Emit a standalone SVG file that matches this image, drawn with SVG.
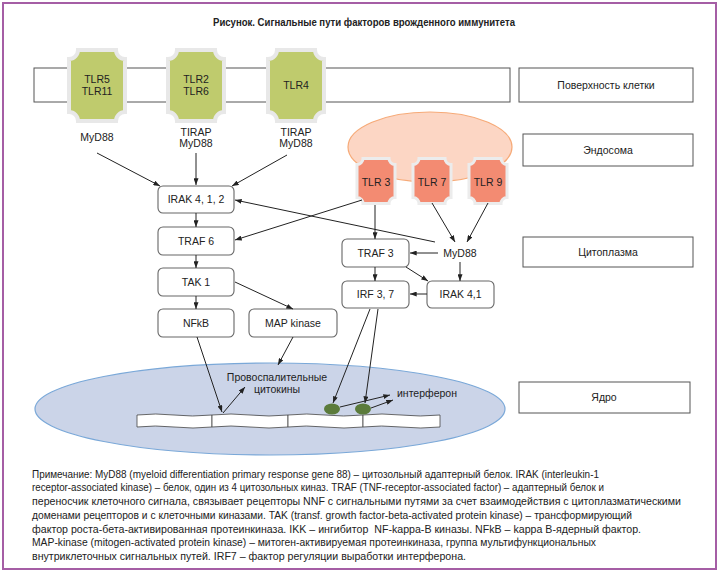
<svg xmlns="http://www.w3.org/2000/svg" width="720" height="573" viewBox="0 0 720 573">
<defs>
<marker id="ah" viewBox="0 0 8 6" refX="8" refY="3" markerWidth="7" markerHeight="5" markerUnits="userSpaceOnUse" orient="auto">
<path d="M0,0 L8,3 L0,6 Z" fill="#222"/>
</marker>
<style>
text{font-family:"Liberation Sans",Arial,sans-serif;fill:#222;}
.lbl{font-size:10.5px;text-anchor:middle;}
.note{font-size:10.3px;}
.box{fill:#fff;stroke:#555;stroke-width:1;}
.node{fill:#fff;stroke:#666;stroke-width:1.1;}
.green{fill:#bfcb6d;stroke:#e8e8e8;stroke-width:4;}
.red{fill:#f38b72;stroke:#ececec;stroke-width:3;}
.con line{stroke:#222;stroke-width:1;marker-end:url(#ah);}
.dna{fill:#fff;stroke:#444;stroke-width:0.8;}
</style>
</defs>
<rect x="3" y="3" width="713" height="566" fill="#fff" stroke="#a55ea5" stroke-width="2"/>
<text x="364" y="26" font-size="10.8" font-weight="bold" text-anchor="middle" textLength="302" lengthAdjust="spacingAndGlyphs">Рисунок. Сигнальные пути факторов врожденного иммунитета</text>

<g id="membrane"><rect class="box" x="34" y="68" width="476" height="34"/></g>
<g id="label-surface"><rect class="box" x="519" y="68" width="174" height="34"/><text class="lbl" x="606" y="89">Поверхность клетки</text></g>
<g id="label-endosome"><rect class="box" x="523" y="134" width="170" height="32"/><text class="lbl" x="608" y="154">Эндосома</text></g>
<g id="label-cytoplasm"><rect class="box" x="523" y="237" width="170" height="30"/><text class="lbl" x="608" y="256">Цитоплазма</text></g>
<g id="label-nucleus"><rect class="box" x="519" y="382" width="171" height="31"/><text class="lbl" x="604" y="401">Ядро</text></g>

<g id="endosome"><ellipse cx="430" cy="147" rx="82" ry="35" fill="#fcd6c4" stroke="#f6aa78" stroke-width="1.2"/></g>
<g id="nucleus"><ellipse cx="270" cy="409" rx="235" ry="46" fill="#cbd4e8" stroke="#7aa8d8" stroke-width="1.2"/></g>

<g id="tlr5"><path class="green" d="M78,50 H116 A9,9 0 0 0 125,59 V112 A9,9 0 0 0 116,121 H78 A9,9 0 0 0 69,112 V59 A9,9 0 0 0 78,50 Z"/><text class="lbl" x="97" y="83">TLR5</text><text class="lbl" x="97" y="95">TLR11</text></g>
<g id="tlr2"><path class="green" d="M177,50 H215 A9,9 0 0 0 224,59 V112 A9,9 0 0 0 215,121 H177 A9,9 0 0 0 168,112 V59 A9,9 0 0 0 177,50 Z"/><text class="lbl" x="196" y="83">TLR2</text><text class="lbl" x="196" y="95">TLR6</text></g>
<g id="tlr4"><path class="green" d="M277,50 H315 A9,9 0 0 0 324,59 V112 A9,9 0 0 0 315,121 H277 A9,9 0 0 0 268,112 V59 A9,9 0 0 0 277,50 Z"/><text class="lbl" x="296" y="89">TLR4</text></g>

<g id="tlr3"><path class="red" d="M363,158.5 H389 A6,6 0 0 0 395,164.5 V197.5 A6,6 0 0 0 389,203.5 H363 A6,6 0 0 0 357,197.5 V164.5 A6,6 0 0 0 363,158.5 Z"/><text class="lbl" x="376" y="186">TLR 3</text></g>
<g id="tlr7"><path class="red" d="M419,158.5 H445 A6,6 0 0 0 451,164.5 V197.5 A6,6 0 0 0 445,203.5 H419 A6,6 0 0 0 413,197.5 V164.5 A6,6 0 0 0 419,158.5 Z"/><text class="lbl" x="432" y="186">TLR 7</text></g>
<g id="tlr9"><path class="red" d="M475,158.5 H501 A6,6 0 0 0 507,164.5 V197.5 A6,6 0 0 0 501,203.5 H475 A6,6 0 0 0 469,197.5 V164.5 A6,6 0 0 0 475,158.5 Z"/><text class="lbl" x="488" y="186">TLR 9</text></g>

<g id="adapter-1"><text class="lbl" x="97" y="141">MyD88</text></g>
<g id="adapter-2"><text class="lbl" x="196" y="136">TIRAP</text><text class="lbl" x="196" y="147">MyD88</text></g>
<g id="adapter-3"><text class="lbl" x="296" y="136">TIRAP</text><text class="lbl" x="296" y="147">MyD88</text></g>
<g id="myd88"><text class="lbl" x="460" y="257">MyD88</text></g>

<g id="irak412"><rect class="node" x="158" y="186" width="76" height="27" rx="5"/><text class="lbl" x="196" y="203">IRAK 4, 1, 2</text></g>
<g id="traf6"><rect class="node" x="158" y="227" width="76" height="28" rx="5"/><text class="lbl" x="196" y="245">TRAF 6</text></g>
<g id="tak1"><rect class="node" x="158" y="268" width="76" height="28" rx="5"/><text class="lbl" x="196" y="286">TAK 1</text></g>
<g id="nfkb"><rect class="node" x="158" y="309" width="76" height="28" rx="5"/><text class="lbl" x="196" y="327">NFkB</text></g>
<g id="mapk"><rect class="node" x="249" y="309" width="88" height="28" rx="5"/><text class="lbl" x="293" y="327">MAP kinase</text></g>
<g id="traf3"><rect class="node" x="342" y="239" width="67" height="28" rx="5"/><text class="lbl" x="375.5" y="257">TRAF 3</text></g>
<g id="irf37"><rect class="node" x="342" y="281" width="67" height="27" rx="5"/><text class="lbl" x="375.5" y="298">IRF 3, 7</text></g>
<g id="irak41"><rect class="node" x="427" y="281" width="67" height="27" rx="5"/><text class="lbl" x="460.5" y="298">IRAK 4,1</text></g>

<g id="dna">
<path class="dna" d="M137,415 Q156,413 174,415 T212,415 V427 Q193,429 174,427 T137,427 Z"/>
<path class="dna" d="M212,415 Q231,413 250,415 T288,415 V427 Q269,429 250,427 T212,427 Z"/>
<path class="dna" d="M288,415 Q307,413 325,415 T363,415 V427 Q344,429 325,427 T288,427 Z"/>
<path class="dna" d="M363,415 Q382,413 401,415 T440,415 V427 Q421,429 401,427 T363,427 Z"/>
</g>
<g id="tf1"><ellipse cx="332" cy="409" rx="8" ry="5.5" fill="#5b7b3b"/></g>
<g id="tf2"><ellipse cx="363" cy="409" rx="8" ry="5.5" fill="#5b7b3b"/></g>
<g id="cytokines"><text class="lbl" x="277" y="381">Провоспалительные</text><text class="lbl" x="277" y="393">цитокины</text></g>
<g id="interferon"><text class="lbl" x="427" y="397">интерферон</text></g>

<g id="connectors" class="con">
<line x1="97" y1="153" x2="160" y2="186"/>
<line x1="196" y1="153" x2="196" y2="185"/>
<line x1="287" y1="155" x2="232" y2="186"/>
<line x1="196" y1="213" x2="196" y2="227"/>
<line x1="196" y1="255" x2="196" y2="268"/>
<line x1="196" y1="296" x2="196" y2="309"/>
<line x1="235" y1="282" x2="293" y2="309"/>
<line x1="435" y1="242" x2="235" y2="200"/>
<line x1="362" y1="200" x2="235" y2="240"/>
<line x1="375" y1="205" x2="375" y2="239"/>
<line x1="432" y1="203" x2="455" y2="242"/>
<line x1="488" y1="203" x2="467" y2="242"/>
<line x1="438" y1="253" x2="410" y2="253"/>
<line x1="460" y1="262" x2="460" y2="281"/>
<line x1="406" y1="267" x2="428" y2="281"/>
<line x1="375" y1="267" x2="375" y2="281"/>
<line x1="427" y1="294" x2="410" y2="294"/>
<line x1="197" y1="337" x2="222" y2="412"/>
<line x1="223" y1="413" x2="245" y2="387"/>
<line x1="293" y1="337" x2="278" y2="365"/>
<line x1="370" y1="309" x2="333" y2="403"/>
<line x1="378" y1="309" x2="365" y2="403"/>
<line x1="340" y1="407" x2="390" y2="395"/>
<line x1="371" y1="408" x2="393" y2="400"/>
</g>

<g id="note">
<text class="note" x="32" y="478" textLength="567" lengthAdjust="spacingAndGlyphs">Примечание: MyD88 (myeloid differentiation primary response gene 88) – цитозольный адаптерный белок. IRAK (interleukin-1</text>
<text class="note" x="32" y="491" textLength="572" lengthAdjust="spacingAndGlyphs">receptor-associated kinase) – белок, один из 4 цитозольных киназ. TRAF (TNF-receptor-associated factor) – адаптерный белок и</text>
<text class="note" x="32" y="505" textLength="649" lengthAdjust="spacingAndGlyphs">переносчик клеточного сигнала, связывает рецепторы NNF с сигнальными путями за счет взаимодействия с цитоплазматическими</text>
<text class="note" x="32" y="519" textLength="600" lengthAdjust="spacingAndGlyphs">доменами рецепторов и с клеточными киназами. TAK (transf. growth factor-beta-activated protein kinase) – трансформирующий</text>
<text class="note" x="32" y="533" textLength="609" lengthAdjust="spacingAndGlyphs" xml:space="preserve">фактор роста-бета-активированная протеинкиназа. IKK – ингибитор  NF-kappa-B киназы. NFkB – kappa B-ядерный фактор.</text>
<text class="note" x="32" y="546" textLength="564" lengthAdjust="spacingAndGlyphs">MAP-kinase (mitogen-activated protein kinase) – митоген-активируемая протеинкиназа, группа мультифункциональных</text>
<text class="note" x="32" y="560" textLength="434" lengthAdjust="spacingAndGlyphs">внутриклеточных сигнальных путей. IRF7 – фактор регуляции выработки интерферона.</text>
</g>
</svg>
